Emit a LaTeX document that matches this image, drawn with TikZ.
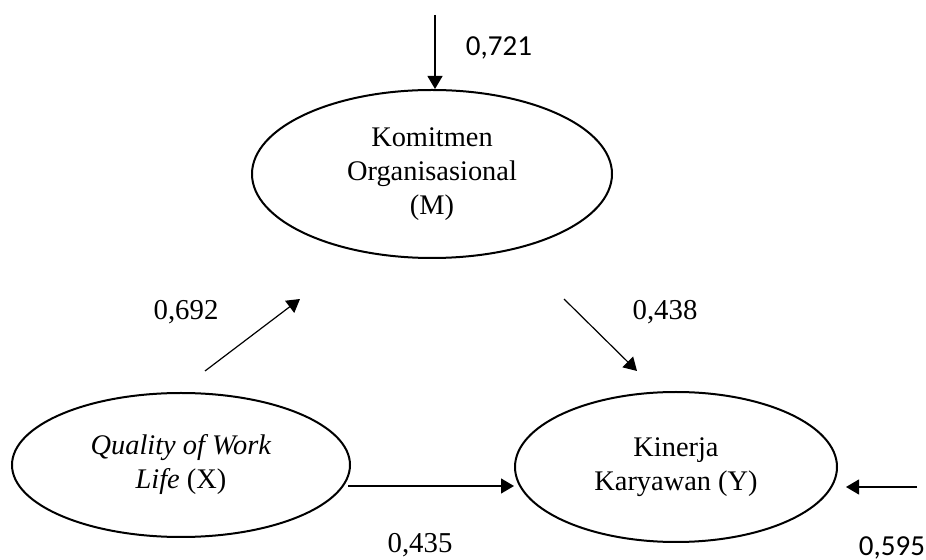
\documentclass[tikz,border=0pt]{standalone}
\usepackage{fontspec}
\setmainfont{Liberation Serif}
\newfontfamily\numfont{Carlito}
\usetikzlibrary{
  positioning,
  shapes.geometric,
  arrows.meta,
}
\definecolor{border}{HTML}{000000}
\tikzset{
  latent/.style={
    ellipse, draw=border, line width=1pt, inner sep=0pt, align=center,
    font=\fontsize{14.2}{17}\selectfont,
  },
  arrow/.style={-{Triangle[length=6.5pt, width=7.5pt]}, border, line width=0.6pt},
  coef/.style={font=\fontsize{14.4}{17}\selectfont},
  resid/.style={font=\numfont\fontsize{14.5}{17}\selectfont},
}

\begin{document}
\begin{tikzpicture}[x=0.5pt, y=-0.5pt]
  \useasboundingbox (0,0) rectangle (926,560);

  % Latent variables
  \node[latent, minimum width=180pt, minimum height=84pt] (M) at (432, 174) {Komitmen\\Organisasional\\(M)};
  \node[latent, minimum width=169pt, minimum height=72pt] (X) at (181, 465) {\textit{Quality of Work}\\\textit{Life} (X)};
  \node[latent, minimum width=161pt, minimum height=75pt] (Y) at (676, 467) {Kinerja\\Karyawan (Y)};

  % Free ends
  \coordinate (eM) at (435, 15);
  \coordinate (eY) at (917, 487);
  \coordinate (xmA) at (205, 371);
  \coordinate (xmB) at (300, 299);
  \coordinate (myA) at (564, 299);
  \coordinate (myB) at (637, 371);
  \coordinate (xyA) at (348, 486);

  % Paths
  \draw[arrow] (eM) -- (eM |- M.north);
  \draw[arrow] (xmA) -- (xmB);
  \draw[arrow] (myA) -- (myB);
  \draw[arrow] (xyA) -- (xyA -| Y.west);
  \draw[arrow, shorten >=4pt] (eY) -- (eY -| Y.east);

  % Coefficients
  \node[resid] (lM) at (499, 48) {0,721};
  \node[coef] (lXM) at (186, 312) {0,692};
  \node[coef] (lMY) at (665, 312) {0,438};
  \node[coef] (lXY) at (420, 545) {0,435};
  \node[resid] (lY) at (892, 548) {0,595};

\end{tikzpicture}
\end{document}
